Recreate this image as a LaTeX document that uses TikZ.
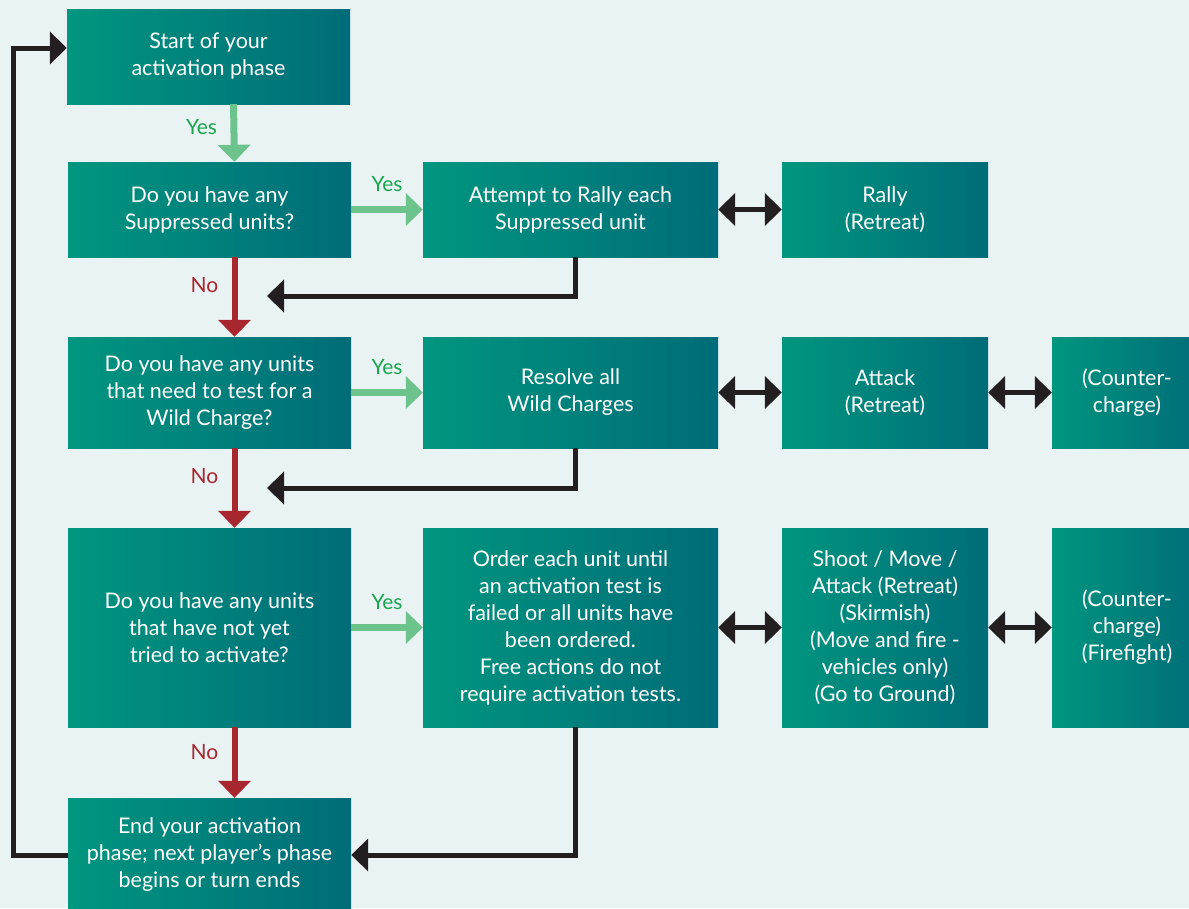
\documentclass[tikz,border=0pt]{standalone}
\usepackage{fontspec}
\setmainfont{Lato}
\usetikzlibrary{arrows.meta}

\definecolor{boxleft}{HTML}{00967F}
\definecolor{boxright}{HTML}{006C78}
\definecolor{bgpaper}{HTML}{EAF3F4}
\definecolor{yesline}{HTML}{6CC48C}
\definecolor{yestext}{HTML}{19A54E}
\definecolor{noline}{HTML}{A8262D}
\definecolor{backline}{HTML}{231F20}

\begin{document}
\begin{tikzpicture}[x=1pt, y=-1pt,
    stepbox/.style={rectangle, left color=boxleft, right color=boxright, text=white,
        align=center, inner sep=0pt, font=\fontsize{21.5}{27}\selectfont},
    yesarrow/.style={draw=yesline, line width=7pt, -{Triangle[length=17pt,width=32pt]}},
    noarrow/.style={draw=noline, line width=6pt, -{Triangle[length=17pt,width=32pt]}},
    backarrow/.style={draw=backline, line width=5pt, -{Triangle[length=17pt,width=32pt]}},
    botharrow/.style={draw=backline, line width=5pt, {Triangle[length=17pt,width=32pt]}-{Triangle[length=17pt,width=32pt]}},
    yeslabel/.style={text=yestext, font=\fontsize{21}{24}\selectfont},
    nolabel/.style={text=noline, font=\fontsize{21}{24}\selectfont}]

    \useasboundingbox (0,0) rectangle (1189,908);
    \clip (0,0) rectangle (1189,908);
    \fill[bgpaper] (0,0) rectangle (1189,908);

    % Left column
    \node[stepbox, minimum width=283, minimum height=95] (start) at (208.5,56.5)
        {Start of your\\activation phase};
    \node[stepbox, minimum width=283, minimum height=95] (supq) at (209.5,209.5)
        {Do you have any\\Suppressed units?};
    \node[stepbox, minimum width=283, minimum height=111] (wildq) at (209.5,392.5)
        {Do you have any units\\that need to test for a\\Wild Charge?};
    \node[stepbox, minimum width=283, minimum height=199] (orderq) at (209.5,627.5)
        {Do you have any units\\that have not yet\\tried to activate?};
    \node[stepbox, minimum width=283, minimum height=114] (endphase) at (209.5,855)
        {End your activation\\phase; next player’s phase\\begins or turn ends};

    % Middle column
    \node[stepbox, minimum width=295, minimum height=95] (rallyatt) at (570.5,209.5)
        {Attempt to Rally each\\Suppressed unit};
    \node[stepbox, minimum width=295, minimum height=111] (wildres) at (570.5,392.5)
        {Resolve all\\Wild Charges};
    \node[stepbox, minimum width=295, minimum height=199] (order) at (570.5,627.5)
        {Order each unit until\\an activation test is\\failed or all units have\\been ordered.\\Free actions do not\\require activation tests.};

    % Right columns
    \node[stepbox, minimum width=206, minimum height=95] (rally) at (885,209.5)
        {Rally\\(Retreat)};
    \node[stepbox, minimum width=206, minimum height=111] (attack) at (885,392.5)
        {Attack\\(Retreat)};
    \node[stepbox, minimum width=206, minimum height=199] (shoot) at (885,627.5)
        {Shoot / Move /\\Attack (Retreat)\\(Skirmish)\\(Move and fire -\\vehicles only)\\(Go to Ground)};
    \node[stepbox, minimum width=150, minimum height=111] (counter) at (1127,392.5)
        {(Counter-\\charge)};
    \node[stepbox, minimum width=150, minimum height=199] (counterff) at (1127,627.5)
        {(Counter-\\charge)\\(Firefight)};

    % Yes / No arrows
    \draw[yesarrow] ([xshift=25pt]start.south) -- node[yeslabel, pos=0.4, left=10pt] {Yes} ([xshift=25pt]supq.north);
    \draw[yesarrow] (supq.east) -- node[yeslabel, midway, above=11pt] {Yes} (rallyatt.west);
    \draw[yesarrow] (wildq.east) -- node[yeslabel, midway, above=11pt] {Yes} (wildres.west);
    \draw[yesarrow] (orderq.east) -- node[yeslabel, midway, above=11pt] {Yes} (order.west);
    \draw[noarrow] ([xshift=25pt]supq.south) -- node[nolabel, pos=0.35, left=10pt] {No} ([xshift=25pt]wildq.north);
    \draw[noarrow] ([xshift=25pt]wildq.south) -- node[nolabel, pos=0.35, left=10pt] {No} ([xshift=25pt]orderq.north);
    \draw[noarrow] ([xshift=25pt]orderq.south) -- node[nolabel, pos=0.35, left=10pt] {No} ([xshift=25pt]endphase.north);

    % Two-way arrows
    \draw[botharrow] (rallyatt.east) -- (rally.west);
    \draw[botharrow] (wildres.east) -- (attack.west);
    \draw[botharrow] (attack.east) -- (counter.west);
    \draw[botharrow] (order.east) -- (shoot.west);
    \draw[botharrow] (shoot.east) -- (counterff.west);

    % Return arrows
    \coordinate (back1) at (267,296);
    \coordinate (back2) at (267,488);
    \draw[backarrow] ([xshift=5pt]rallyatt.south) |- (back1);
    \draw[backarrow] ([xshift=5pt]wildres.south) |- (back2);
    \draw[backarrow] ([xshift=5pt]order.south) |- (endphase.east);

    % Loop back to the start
    \coordinate (loopx) at (13,48);
    \draw[backarrow] (endphase.west) -| (loopx) -- (start.west |- loopx);

\end{tikzpicture}
\end{document}
